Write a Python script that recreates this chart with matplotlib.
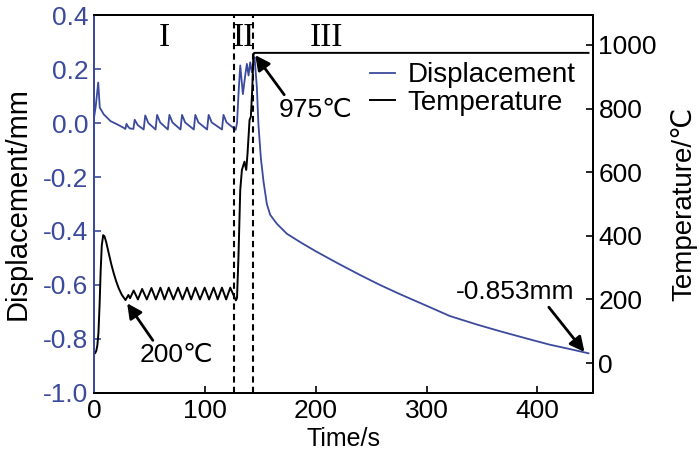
import matplotlib
matplotlib.use('Agg')
import matplotlib.pyplot as plt
from matplotlib.ticker import FormatStrFormatter, MultipleLocator

plt.rcParams['font.family'] = ['Liberation Sans', 'DejaVu Sans']
plt.rcParams['axes.unicode_minus'] = False

BLUE = '#3b4a9c'

# Displacement curve (left axis, mm)
disp_time = [0, 1.5, 3.8, 5.2, 8.8, 14.9, 20.9, 26.8, 28.3, 29.3, 31, 32.3,
             35.5, 36.7, 39.5, 44.8, 46.2, 49, 55.5, 56.9, 59.7, 66.6, 68, 70.8,
             78, 79.4, 82.2, 90, 91.4, 94.2, 102, 103.4, 106.2, 115.4, 116.8, 119.6,
             127.8, 129, 130.5, 131.9, 134.3, 136.5, 137.9, 139.4, 140.9, 142.4, 144.8,
             146.9, 148.3, 150.5, 152.9, 155.9, 158.9, 164.9, 173.9, 185.9,
             200, 220, 240, 258, 276, 300, 321, 345, 366, 390, 411, 430, 446]
disp_vals = [0.02, 0.06, 0.15, 0.057, 0.032, 0.007, -0.005, -0.018, -0.022, -0.003, -0.015, -0.02,
             -0.022, 0.012, -0.008, -0.024, 0.028, 0.0, -0.024, 0.03, 0.002, -0.024, 0.03, 0.002,
             -0.024, 0.03, 0.002, -0.024, 0.03, 0.002, -0.024, 0.03, 0.002, -0.024, 0.03, 0.002,
             -0.025, 0.0, 0.12, 0.213, 0.107, 0.18, 0.219, 0.176, 0.225, 0.188, 0.244,
             0.132, -0.005, -0.13, -0.217, -0.30, -0.34, -0.373, -0.41, -0.441,
             -0.475, -0.52, -0.563, -0.60, -0.634, -0.677, -0.715, -0.746, -0.771, -0.798, -0.821, -0.838, -0.853]

# Temperature curve (right axis, degC)
temp_time = [0, 1, 2, 3, 4, 5, 6, 7, 8.3, 9.5, 11, 13.3, 15.5, 17.8, 20, 22.3, 25, 28.4,
             31, 32.5, 35.8, 39.6, 43.4, 47.6, 51.8, 55.8, 59.9, 63.6, 67.4, 71.6, 75.8,
             79.8, 83.9, 87.6, 91.4, 95.6, 99.8, 103.8, 107.9, 111.6, 115.4, 119.2, 122.9, 128,
             129, 130.3, 131.9, 133.4, 135.7, 137.3, 138.5, 140.3, 141.5, 142.7, 143.8, 144.5, 446]
temp_vals = [30, 31, 38, 55, 95, 180, 290, 370, 402, 398, 380, 345, 312, 282, 257, 235, 215, 198,
             214, 204, 228, 200, 233, 200, 236, 200, 237, 200, 237, 200, 237,
             200, 237, 200, 237, 200, 237, 200, 237, 200, 237, 200, 237, 197,
             205, 334, 544, 607, 633, 607, 660, 764, 775, 858, 968, 975, 975]

stage_bounds = [126, 143.3]
stage_labels = ['I', 'II', 'III']
stage_pos = [63, 135, 210]

x_ticks = [0, 100, 200, 300, 400]
temp_ticks = [0, 200, 400, 600, 800, 1000]

fig = plt.figure(figsize=(7, 4.55), dpi=100)
ax = fig.add_axes([0.1343, 0.1363, 0.7127, 0.8307])
ax2 = ax.twinx()

l1, = ax.plot(disp_time, disp_vals, color=BLUE, lw=1.3, label='Displacement')
l2, = ax2.plot(temp_time, temp_vals, color='k', lw=1.4, label='Temperature')

for xb in stage_bounds:
    ax.axvline(xb, color='k', lw=1.5, linestyle=(0, (3, 2)))

ax.set_xlim(0, 450)
ax.set_ylim(-1.0, 0.4)
ax2.set_ylim(-94, 1094)
ax.set_xticks(x_ticks)
ax.yaxis.set_major_locator(MultipleLocator(0.2))
ax.yaxis.set_major_formatter(FormatStrFormatter('%.1f'))
ax2.set_yticks(temp_ticks)

fs = 19
ax.tick_params(axis='x', direction='in', length=5, width=1.2, labelsize=fs, pad=4)
ax.tick_params(axis='y', direction='in', length=5, width=1.2, labelsize=fs,
               colors=BLUE, pad=4)
ax2.tick_params(axis='y', direction='in', length=5, width=1.2, labelsize=fs, pad=4)

for a in (ax, ax2):
    for s in a.spines.values():
        s.set_linewidth(1.3)
ax2.spines['left'].set_color(BLUE)
ax.spines['left'].set_color(BLUE)

ax.set_xlabel('Time/s', fontsize=18, labelpad=3)
ax.set_ylabel('Displacement/mm', fontsize=21, labelpad=8)
ax2.set_ylabel('Temperature/℃', fontsize=20, labelpad=10)

for lab, xp in zip(stage_labels, stage_pos):
    ax.text(xp, 0.315, lab, fontsize=24, family='Liberation Serif',
            ha='center', va='center')

arrow = dict(arrowstyle='-|>', color='k', lw=2, mutation_scale=22, shrinkA=0, shrinkB=0)
ax2.annotate('975℃', xy=(145.4, 968), xytext=(200, 797), fontsize=fs,
             ha='center', va='center', arrowprops=dict(arrow, relpos=(0.1, 1.0)))
ax2.annotate('200℃', xy=(29.9, 188), xytext=(74.7, 25), fontsize=fs,
             ha='center', va='center', arrowprops=dict(arrow, relpos=(0.2, 1.0)))
ax2.annotate('-0.853mm', xy=(442.4, 35), xytext=(379.4, 222), fontsize=fs,
             ha='center', va='center', arrowprops=dict(arrow, relpos=(0.77, 0.0)))

fig.legend([l1, l2], ['Displacement', 'Temperature'], loc='center left',
           bbox_to_anchor=(370 / 700, 1 - 89 / 455), frameon=False, fontsize=20,
           handlelength=0.9, handletextpad=0.45, labelspacing=0.05,
           borderpad=0, borderaxespad=0)

fig.savefig('out.png', dpi=100)
